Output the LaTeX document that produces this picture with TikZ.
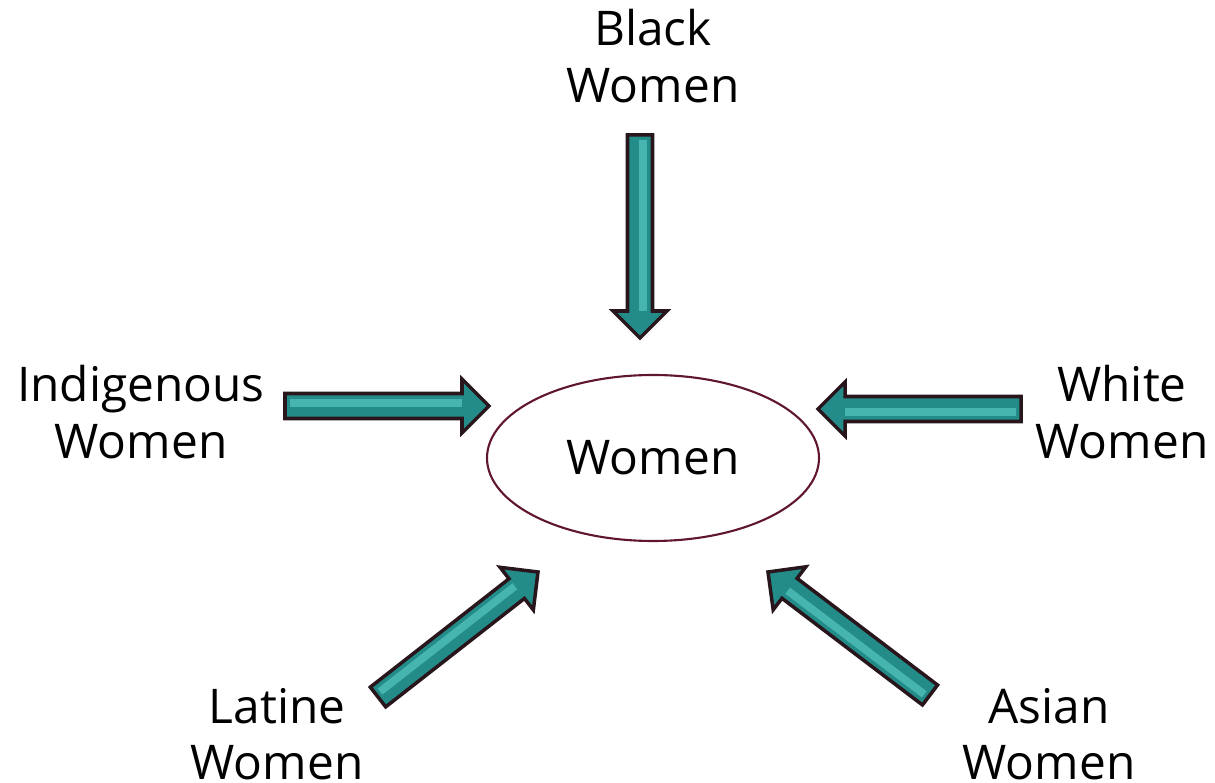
\documentclass[tikz,border=0pt]{standalone}
\usepackage{fontspec}
\setmainfont{Open Sans}
\usetikzlibrary{calc,shapes.geometric}

\definecolor{arrowteal}{RGB}{36,140,136}
\definecolor{arrowlight}{RGB}{70,180,175}
\definecolor{arrowedge}{RGB}{40,22,28}
\definecolor{ringcol}{RGB}{96,22,48}

\tikzset{
  label/.style={align=center, font=\fontsize{13.6}{16}\selectfont},
  arrowbody/.style={fill=arrowteal, draw=arrowedge, line width=1pt, line join=miter},
}

% block arrow from tail #1 to tip #2
\newcommand{\blockarrow}[2]{%
  \coordinate (hb) at ($(#2)!0.27cm!(#1)$);
  \filldraw[arrowbody] ($(#1)!0.125cm!90:(#2)$) -- ($(hb)!0.125cm!90:(#2)$)
    -- ($(hb)!0.27cm!90:(#2)$) -- (#2) -- ($(hb)!0.27cm!-90:(#2)$)
    -- ($(hb)!0.125cm!-90:(#2)$) -- ($(#1)!0.125cm!-90:(#2)$) -- cycle;
  \draw[arrowlight, line width=2.2pt] ($($(#1)!0.05cm!(#2)$)!0.03cm!90:(#2)$)
    -- ($(hb)!0.03cm!90:(#2)$);
}

\begin{document}
\begin{tikzpicture}

  \useasboundingbox (0,0) rectangle (12.15,-7.83);

  % centre
  \node[ellipse, draw=ringcol, line width=0.6pt, minimum width=3.32cm,
    minimum height=1.66cm, label] (women) at (6.53,-4.58) {Women};

  % groups
  \node[label] (black)  at (6.53,-0.56) {Black\\Women};
  \node[label] (indig)  at (1.41,-4.12) {Indigenous\\Women};
  \node[label] (white)  at (11.22,-4.12) {White\\Women};
  \node[label] (latine) at (2.77,-7.34) {Latine\\Women};
  \node[label] (asian)  at (10.49,-7.34) {Asian\\Women};

  % arrow ends
  \coordinate (blackTail)  at (6.40,-1.35);
  \coordinate (blackTip)   at (6.40,-3.38);
  \coordinate (indigTail)  at (2.85,-4.06);
  \coordinate (indigTip)   at (4.89,-4.06);
  \coordinate (whiteTail)  at (10.21,-4.09);
  \coordinate (whiteTip)   at (8.18,-4.09);
  \coordinate (latineTail) at (3.78,-6.97);
  \coordinate (latineTip)  at (5.38,-5.72);
  \coordinate (asianTail)  at (9.30,-6.95);
  \coordinate (asianTip)   at (7.68,-5.72);

  \blockarrow{blackTail}{blackTip}
  \blockarrow{indigTail}{indigTip}
  \blockarrow{whiteTail}{whiteTip}
  \blockarrow{latineTail}{latineTip}
  \blockarrow{asianTail}{asianTip}

\end{tikzpicture}
\end{document}
